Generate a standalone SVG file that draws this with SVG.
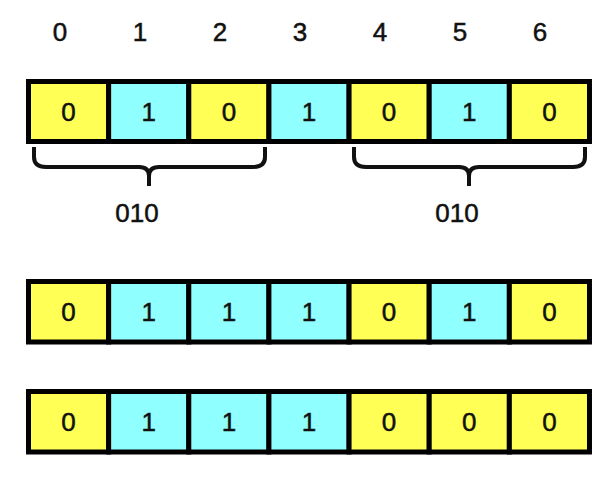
<svg xmlns="http://www.w3.org/2000/svg" width="608" height="484" viewBox="0 0 608 484">
<style>
.y{fill:#FFFF55;stroke:#000;stroke-width:5}
.c{fill:#90FFFF;stroke:#000;stroke-width:5}
text{font-family:"Liberation Sans",Arial,sans-serif;font-size:26px;fill:#111;stroke:#111;stroke-width:0.5;text-anchor:middle}
.br{fill:none;stroke:#111;stroke-width:4;stroke-linecap:butt}
</style>
<rect width="608" height="484" fill="#fff"/>
<g id="indices">
<text x="60" y="41">0</text><text x="140" y="41">1</text><text x="220" y="41">2</text><text x="300" y="41">3</text><text x="380" y="41">4</text><text x="460" y="41">5</text><text x="540" y="41">6</text>
</g>
<g id="row1">
<g id="r1c0"><rect class="y" x="28.5" y="81.5" width="80.14" height="60"/><text x="68.6" y="121">0</text></g>
<g id="r1c1"><rect class="c" x="108.64" y="81.5" width="80.14" height="60"/><text x="148.7" y="121">1</text></g>
<g id="r1c2"><rect class="y" x="188.78" y="81.5" width="80.14" height="60"/><text x="228.9" y="121">0</text></g>
<g id="r1c3"><rect class="c" x="268.92" y="81.5" width="80.14" height="60"/><text x="309" y="121">1</text></g>
<g id="r1c4"><rect class="y" x="349.06" y="81.5" width="80.14" height="60"/><text x="389.1" y="121">0</text></g>
<g id="r1c5"><rect class="c" x="429.2" y="81.5" width="80.14" height="60"/><text x="469.3" y="121">1</text></g>
<g id="r1c6"><rect class="y" x="509.34" y="81.5" width="80.14" height="60"/><text x="549.4" y="121">0</text></g>
</g>
<g id="connectors">
<path class="br" d="M34,147 V157 Q34,167 46,167 H139 Q149,167 149,176 V186 M149,176 Q149,167 159,167 H253 Q265,167 265,157 V147"/>
<path class="br" d="M354,147 V157 Q354,167 366,167 H459 Q469,167 469,176 V186 M469,176 Q469,167 479,167 H573 Q585,167 585,157 V147"/>
</g>
<g id="labels">
<text x="137" y="222">010</text>
<text x="457" y="222">010</text>
</g>
<g id="row2">
<g id="r2c0"><rect class="y" x="28.5" y="281.5" width="80.14" height="60.5"/><text x="68.6" y="321">0</text></g>
<g id="r2c1"><rect class="c" x="108.64" y="281.5" width="80.14" height="60.5"/><text x="148.7" y="321">1</text></g>
<g id="r2c2"><rect class="c" x="188.78" y="281.5" width="80.14" height="60.5"/><text x="228.9" y="321">1</text></g>
<g id="r2c3"><rect class="c" x="268.92" y="281.5" width="80.14" height="60.5"/><text x="309" y="321">1</text></g>
<g id="r2c4"><rect class="y" x="349.06" y="281.5" width="80.14" height="60.5"/><text x="389.1" y="321">0</text></g>
<g id="r2c5"><rect class="c" x="429.2" y="281.5" width="80.14" height="60.5"/><text x="469.3" y="321">1</text></g>
<g id="r2c6"><rect class="y" x="509.34" y="281.5" width="80.14" height="60.5"/><text x="549.4" y="321">0</text></g>
</g>
<g id="row3">
<g id="r3c0"><rect class="y" x="28.5" y="391.5" width="80.14" height="60.5"/><text x="68.6" y="431">0</text></g>
<g id="r3c1"><rect class="c" x="108.64" y="391.5" width="80.14" height="60.5"/><text x="148.7" y="431">1</text></g>
<g id="r3c2"><rect class="c" x="188.78" y="391.5" width="80.14" height="60.5"/><text x="228.9" y="431">1</text></g>
<g id="r3c3"><rect class="c" x="268.92" y="391.5" width="80.14" height="60.5"/><text x="309" y="431">1</text></g>
<g id="r3c4"><rect class="y" x="349.06" y="391.5" width="80.14" height="60.5"/><text x="389.1" y="431">0</text></g>
<g id="r3c5"><rect class="y" x="429.2" y="391.5" width="80.14" height="60.5"/><text x="469.3" y="431">0</text></g>
<g id="r3c6"><rect class="y" x="509.34" y="391.5" width="80.14" height="60.5"/><text x="549.4" y="431">0</text></g>
</g>
</svg>
